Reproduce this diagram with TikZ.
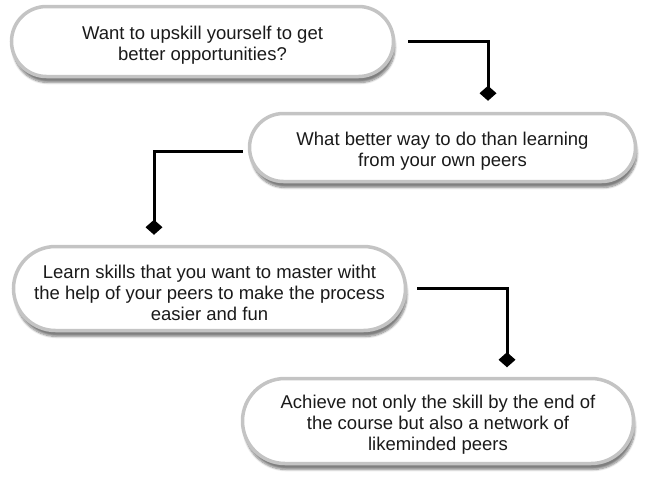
\documentclass[tikz,border=0pt]{standalone}
\usepackage{fontspec}
\setmainfont{Liberation Sans}
\usetikzlibrary{calc, positioning, arrows.meta, shapes.misc, shadows.blur}
\definecolor{rim}{HTML}{C4C4C4}
\definecolor{ink}{HTML}{1A1A1A}
\newcommand{\lift}{\rule{0pt}{21.5pt}}
\tikzstyle{pill}=[rounded rectangle, draw=rim, line width=3.5pt, fill=white, inner sep=0pt, align=center, text=ink, font=\fontsize{18.5}{21}\selectfont, blur shadow={shadow xshift=1.5pt, shadow yshift=-6pt, shadow blur steps=8, shadow opacity=50}]
\tikzstyle{link}=[line width=3pt, -{Diamond[length=15pt, width=17pt]}]
\tikzset{>=stealth}

\begin{document}
\begin{tikzpicture}[x=1pt, y=-1pt]
\useasboundingbox (0,0) rectangle (645,480);
% the four boxes
\node[pill, minimum width=382pt, minimum height=70pt] (b1) at (202.5,41.5) {\lift Want to upskill yourself to get\\better opportunities?};
\node[pill, minimum width=386pt, minimum height=68pt] (b2) at (442.5,147.5) {\lift What better way to do than learning\\from your own peers};
\node[pill, minimum width=392pt, minimum height=84pt] (b3) at (209.5,288.5) {\lift Learn skills that you want to master witht\\the help of your peers to make the process\\easier and fun};
\node[pill, minimum width=391pt, minimum height=85pt] (b4) at (438,421) {\lift Achieve not only the skill by the end of\\the course but also a network of\\likeminded peers};
% the connectors
\draw[link, shorten <=13pt, shorten >=11pt] (b1.east) -| ($(b2.north)+(45.5,0)$);
\draw[link, shorten <=5pt, shorten >=10pt] ([yshift=-4pt]b2.west) -| ($(b3.north)+(-55.5,0)$);
\draw[link, shorten <=10pt, shorten >=9.5pt] (b3.east) -| ($(b4.north)+(69,0)$);
\end{tikzpicture}
\end{document}
